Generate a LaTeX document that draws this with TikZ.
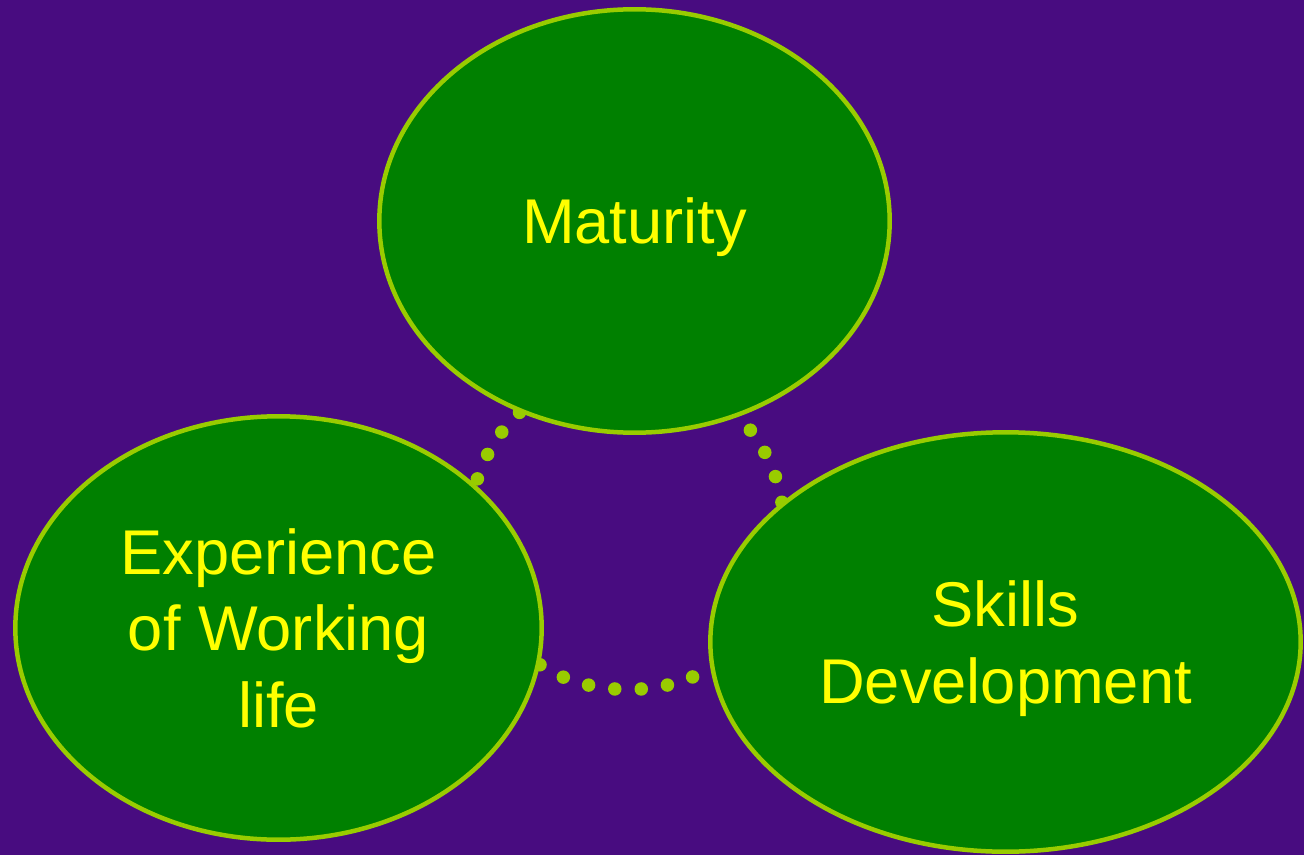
\documentclass[tikz,border=0pt]{standalone}
\usepackage{fontspec}
\setmainfont{Liberation Sans}
\usetikzlibrary{shapes.geometric,positioning}
\definecolor{bgpurple}{RGB}{72,12,128}
\definecolor{leafgreen}{RGB}{0,128,0}
\definecolor{limeline}{RGB}{153,204,0}
\definecolor{textyellow}{RGB}{255,255,0}
\pgfdeclarelayer{ground}
\pgfdeclarelayer{ring}
\pgfsetlayers{ground,ring,main}

\begin{document}
\begin{tikzpicture}[x=0.02cm, y=-0.02cm,
    bubble/.style={ellipse, draw=limeline, fill=leafgreen, line width=0.09cm, inner sep=0pt, align=center, text=textyellow, font=\fontsize{36}{43.7}\selectfont, text depth=0pt},
    ring/.style={limeline, line width=0.27cm, line cap=round, dash pattern=on 0pt off 0.53cm, looseness=0.85}]
    \useasboundingbox (0,0) rectangle (1304,855);
    % Background
    \begin{pgfonlayer}{ground}
        \fill[bgpurple] (0,0) rectangle (1304,855);
    \end{pgfonlayer}

    % Bubbles
    \node[bubble, minimum width=10.21cm, minimum height=8.47cm] (mat) at (634.5,221) {Maturity};
    \node[bubble, minimum width=10.53cm, minimum height=8.47cm] (exp) at (278.5,628) {Experience\\of Working\\life};
    \node[bubble, minimum width=11.81cm, minimum height=8.39cm] (ski) at (1005.5,642) {Skills\\Development};

    % Dotted ring behind the bubbles
    \begin{pgfonlayer}{ring}
        \draw[ring] (mat.239) to[bend right=16] (exp.36);
        \draw[ring] (exp.352) to[bend right=33] (ski.185);
        \draw[ring] (ski.148) to[bend right=18] (mat.298);
    \end{pgfonlayer}
\end{tikzpicture}
\end{document}
